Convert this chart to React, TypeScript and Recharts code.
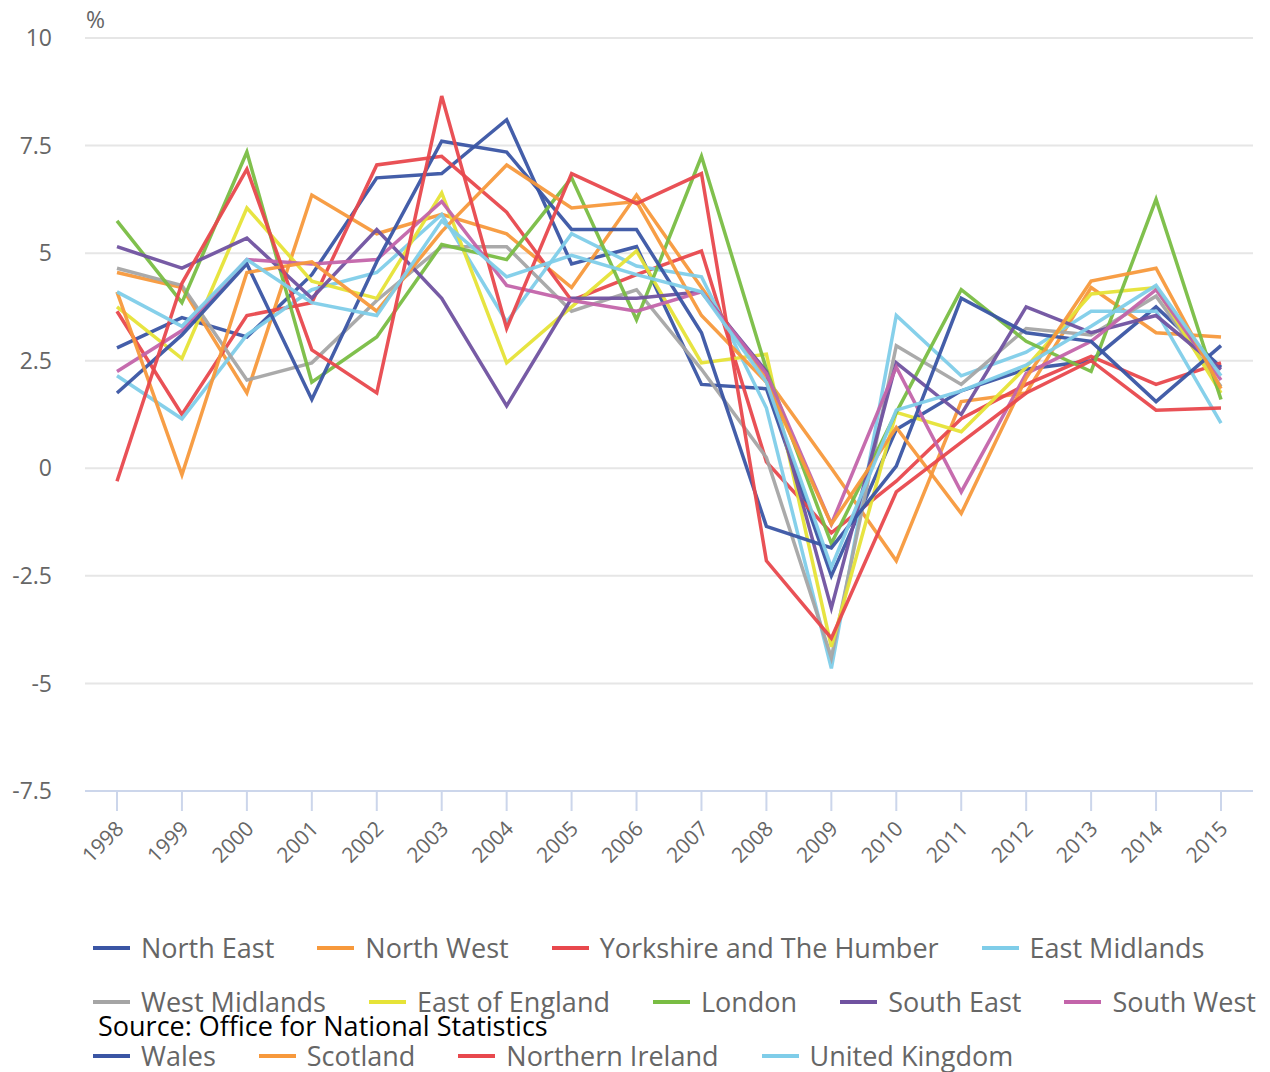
import React from 'react'
import { LineChart, Line, XAxis, YAxis, CartesianGrid } from 'recharts'

const years = ['1998', '1999', '2000', '2001', '2002', '2003', '2004', '2005', '2006', '2007', '2008', '2009', '2010', '2011', '2012', '2013', '2014', '2015']
const yTicks = [-7.5, -5, -2.5, 0, 2.5, 5, 7.5, 10]

const northEast = [2.8, 3.5, 3.05, 4.5, 6.75, 6.85, 8.1, 4.75, 5.15, 1.95, 1.85, -2.5, 0.9, 1.8, 2.3, 2.5, 3.75, 2.35]
const northWest = [4.55, 4.2, 1.75, 6.35, 5.45, 5.9, 5.45, 4.2, 6.35, 4.2, 2.1, 0.0, -2.15, 1.55, 1.75, 4.2, 3.15, 3.05]
const yorkshire = [3.65, 1.25, 3.55, 3.85, 7.05, 7.25, 5.95, 3.9, 4.5, 5.05, 0.15, -1.5, -0.3, 1.15, 1.95, 2.6, 1.95, 2.45]
const eastMidlands = [2.15, 1.15, 3.1, 4.15, 4.55, 5.9, 3.4, 5.45, 4.7, 4.45, 1.4, -4.65, 3.55, 2.15, 2.7, 3.65, 3.65, 1.05]
const westMidlands = [4.65, 4.25, 2.05, 2.45, 3.9, 5.15, 5.15, 3.65, 4.15, 2.3, 0.25, -4.4, 2.85, 1.95, 3.25, 3.1, 4.0, 1.9]
const eastOfEngland = [3.75, 2.55, 6.05, 4.35, 3.95, 6.4, 2.45, 3.75, 5.05, 2.45, 2.65, -4.15, 1.3, 0.85, 2.35, 4.05, 4.2, 1.75]
const london = [5.75, 3.85, 7.35, 2.0, 3.05, 5.2, 4.85, 6.75, 3.45, 7.25, 2.3, -1.75, 1.3, 4.15, 2.95, 2.25, 6.25, 1.6]
const southEast = [5.15, 4.65, 5.35, 3.95, 5.55, 3.95, 1.45, 3.95, 3.95, 4.1, 2.25, -3.25, 2.45, 1.25, 3.75, 3.15, 3.55, 2.3]
const southWest = [2.25, 3.2, 4.85, 4.75, 4.85, 6.2, 4.25, 3.9, 3.65, 4.1, 2.2, -1.3, 2.35, -0.55, 2.2, 2.95, 4.15, 2.05]
const wales = [1.75, 3.1, 4.75, 1.6, 4.8, 7.6, 7.35, 5.55, 5.55, 3.15, -1.35, -1.85, 0.05, 3.95, 3.15, 2.95, 1.55, 2.85]
const scotland = [4.1, -0.15, 4.55, 4.8, 3.65, 5.5, 7.05, 6.05, 6.2, 3.55, 2.0, -1.3, 0.95, -1.05, 2.1, 4.35, 4.65, 1.85]
const northernIreland = [-0.3, 4.3, 6.95, 2.75, 1.75, 8.65, 3.25, 6.85, 6.15, 6.85, -2.15, -3.95, -0.55, 0.6, 1.75, 2.5, 1.35, 1.4]
const unitedKingdom = [4.1, 3.3, 4.85, 3.85, 3.55, 5.75, 4.45, 4.95, 4.5, 4.1, 2.0, -2.3, 1.35, 1.8, 2.4, 3.3, 4.25, 2.15]

const series = [
  { key: 'ne', name: 'North East', color: '#3a55a4', values: northEast },
  { key: 'nw', name: 'North West', color: '#f7993c', values: northWest },
  { key: 'yh', name: 'Yorkshire and The Humber', color: '#e8484d', values: yorkshire },
  { key: 'em', name: 'East Midlands', color: '#7fcde9', values: eastMidlands },
  { key: 'wm', name: 'West Midlands', color: '#a5a5a5', values: westMidlands },
  { key: 'ee', name: 'East of England', color: '#e6e337', values: eastOfEngland },
  { key: 'lo', name: 'London', color: '#79bd43', values: london },
  { key: 'se', name: 'South East', color: '#7052a0', values: southEast },
  { key: 'sw', name: 'South West', color: '#c364aa', values: southWest },
  { key: 'wa', name: 'Wales', color: '#3a55a4', values: wales },
  { key: 'sc', name: 'Scotland', color: '#f7993c', values: scotland },
  { key: 'ni', name: 'Northern Ireland', color: '#e8484d', values: northernIreland },
  { key: 'uk', name: 'United Kingdom', color: '#7fcde9', values: unitedKingdom },
]

const data = years.map((year, i) => {
  const row: Record<string, any> = { year }
  series.forEach(s => { row[s.key] = s.values[i] })
  return row
})

const FONT = '"Open Sans", "Noto Sans", sans-serif'

function fmtY(v: number) {
  return String(v)
}

// rotated year labels, text end sits just right of the tick
function XTick(props: any) {
  const { x, y, payload } = props
  const ax = x + 8
  const ay = y + 19
  return (
    <text x={ax} y={ay} transform={`rotate(-45 ${ax} ${ay})`} textAnchor="end" fill="#666" fontSize={21} fontFamily={FONT}>
      {payload.value}
    </text>
  )
}

function LegendBlock() {
  return (
    <div style={{
      position: 'absolute', left: 93, top: 931, width: 1180,
      display: 'flex', flexWrap: 'wrap', columnGap: 43, rowGap: 20,
      fontFamily: FONT, fontSize: 27, color: '#666', lineHeight: '34px',
    }}>
      {series.map(s => (
        <div key={s.key} style={{ display: 'flex', alignItems: 'center', whiteSpace: 'nowrap' }}>
          <span style={{ display: 'inline-block', width: 37, height: 4, background: s.color, marginRight: 11 }} />
          <span>{s.name}</span>
        </div>
      ))}
    </div>
  )
}

export default function App() {
  return (
    <div style={{ position: 'absolute', left: 0, top: 0, width: 1270, height: 1072, background: '#fff', fontFamily: FONT }}>
      <LineChart width={1270} height={1072} data={data} margin={{ top: 38, right: 17, left: 0, bottom: 181 }}>
        <CartesianGrid vertical={false} stroke="#e6e6e6" strokeWidth={2} horizontalValues={[-5, -2.5, 0, 2.5, 5, 7.5, 10]} />
        <XAxis
          dataKey="year"
          height={100}
          padding={{ left: 32, right: 32 }}
          axisLine={{ stroke: '#ccd6eb', strokeWidth: 2 }}
          tickLine={{ stroke: '#ccd6eb', strokeWidth: 2 }}
          tickSize={20}
          tickMargin={0}
          interval={0}
          tick={<XTick />}
        />
        <YAxis
          width={85}
          domain={[-7.5, 10]}
          ticks={yTicks}
          interval={0}
          axisLine={false}
          tickLine={false}
          tickSize={6}
          tickMargin={27}
          tickFormatter={fmtY}
          tick={{ fill: '#666', fontSize: 23, fontFamily: FONT }}
        />
        {series.map(s => (
          <Line
            key={s.key}
            type="linear"
            dataKey={s.key}
            name={s.name}
            stroke={s.color}
            strokeWidth={3.5}
            strokeOpacity={0.95}
            dot={false}
            activeDot={false}
            isAnimationActive={false}
          />
        ))}
      </LineChart>
      <div style={{ position: 'absolute', left: 86, top: 3, fontSize: 23, color: '#666', fontFamily: FONT }}>%</div>
      <LegendBlock />
      <div style={{ position: 'absolute', left: 98, top: 1008, fontSize: 27, lineHeight: '36px', color: '#000', fontFamily: FONT, whiteSpace: 'nowrap' }}>
        Source: Office for National Statistics
      </div>
    </div>
  )
}
